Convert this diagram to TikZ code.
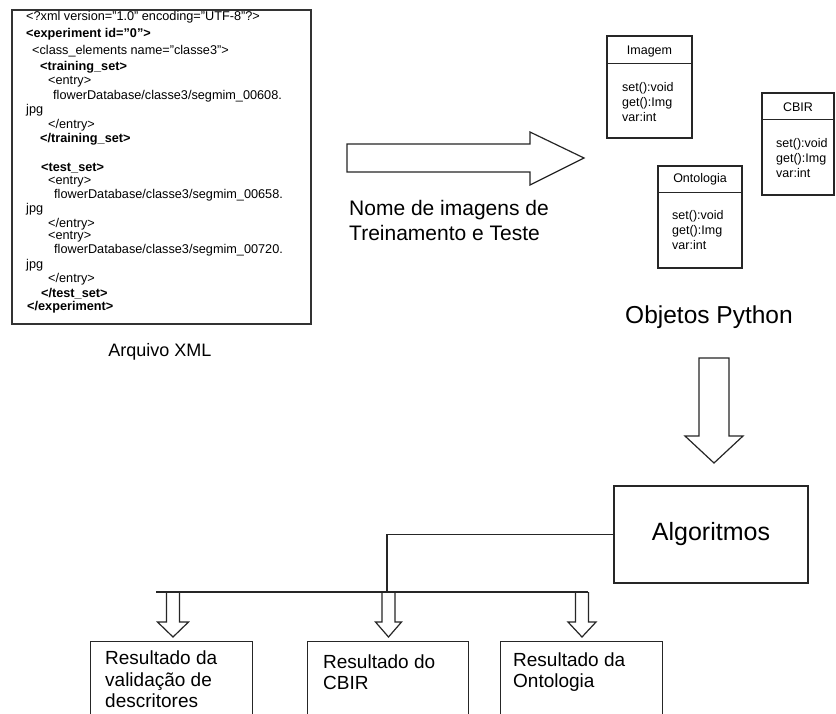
\documentclass[tikz,border=0pt]{standalone}
\usepackage{fontspec}
\setmainfont{Liberation Sans}
\begin{document}
\begin{tikzpicture}[x=1pt,y=-1pt,
  ink/.style={draw=black!85, line width=1.2pt, line join=miter},
  frame/.style={draw=black!80, line width=1.8pt},
  xmlline/.style={inner sep=0pt, anchor=west, font=\fontsize{12.7}{14}\selectfont},
  xmlbold/.style={xmlline, font=\fontsize{12.7}{14}\selectfont\bfseries},
  classbox/.style={ink, minimum height=102pt, inner sep=0pt},
  classtitle/.style={inner sep=0pt, font=\fontsize{12.5}{14}\selectfont},
  classattr/.style={inner sep=0pt, anchor=west, align=left, font=\fontsize{12.5}{15}\selectfont},
  resbox/.style={ink, anchor=north west, minimum height=100pt, inner sep=0pt},
  restext/.style={inner sep=0pt, anchor=west, align=left, font=\fontsize{19}{21.5}\selectfont},
  caption/.style={inner sep=0pt}]
\useasboundingbox (0,0) rectangle (836,713);
\fill[white] (0,0) rectangle (836,713);

% ---- XML file listing ----
\node[frame, anchor=north west, minimum width=299pt, minimum height=314pt, inner sep=0pt] (xml) at (11,9) {};
\node[xmlline] (l1)  at (26,17)  {<?xml version="1.0" encoding="UTF-8"?>};
\node[xmlbold] (l2)  at (26,34)  {<experiment id="0">};
\node[xmlline] (l3)  at (32,51)  {<class\_elements name="classe3">};
\node[xmlbold] (l4)  at (40,67)  {<training\_set>};
\node[xmlline] (l5)  at (48,82)  {<entry>};
\node[xmlline] (l6)  at (53,96)  {flowerDatabase/classe3/segmim\_00608.};
\node[xmlline] (l7)  at (26,110) {jpg};
\node[xmlline] (l8)  at (48,125) {</entry>};
\node[xmlbold] (l9)  at (40,139) {</training\_set>};
\node[xmlbold] (l11) at (41,168) {<test\_set>};
\node[xmlline] (l12) at (48,182) {<entry>};
\node[xmlline] (l13) at (54,195) {flowerDatabase/classe3/segmim\_00658.};
\node[xmlline] (l14) at (26,209) {jpg};
\node[xmlline] (l15) at (48,224) {</entry>};
\node[xmlline] (l16) at (48,237) {<entry>};
\node[xmlline] (l17) at (54,250) {flowerDatabase/classe3/segmim\_00720.};
\node[xmlline] (l18) at (26,265) {jpg};
\node[xmlline] (l19) at (48,279) {</entry>};
\node[xmlbold] (l20) at (41,294) {</test\_set>};
\node[xmlbold] (l21) at (27,307) {</experiment>};
\node[caption, font=\fontsize{18}{20}\selectfont] (xmlcap) at (160,352) {Arquivo XML};

% ---- hollow arrow to the Python objects ----
\draw[ink] (347,144) -- (530,144) -- (530,132) -- (584,158) -- (530,185) -- (530,172) -- (347,172) -- cycle;
\node[inner sep=0pt, anchor=west, align=left, font=\fontsize{21}{25}\selectfont] (names) at (349,220.5)
  {Nome de imagens de\\Treinamento e Teste};

% ---- Python classes ----
\node[classbox, minimum width=85pt] (img) at (649.5,87) {};
\draw[ink] ([yshift=-28pt]img.north west) -- ([yshift=-28pt]img.north east);
\node[classtitle] (imgT) at (649.5,51) {Imagem};
\node[classattr] (imgA) at (622,102) {set():void\\get():Img\\var:int};

\node[classbox, minimum width=72pt] (cbir) at (798,144) {};
\draw[ink] ([yshift=-27pt]cbir.north west) -- ([yshift=-27pt]cbir.north east);
\node[classtitle] (cbirT) at (798,107) {CBIR};
\node[classattr] (cbirA) at (776,158) {set():void\\get():Img\\var:int};

\node[classbox, minimum width=84pt] (onto) at (700,217) {};
\draw[ink] ([yshift=-27pt]onto.north west) -- ([yshift=-27pt]onto.north east);
\node[classtitle] (ontoT) at (700,179.5) {Ontologia};
\node[classattr] (ontoA) at (672,230) {set():void\\get():Img\\var:int};

\node[caption, font=\fontsize{24.5}{28}\selectfont] (py) at (709,317) {Objetos Python};

% ---- hollow arrow down to the algorithms ----
\draw[ink] (699,358) -- (729,358) -- (729,436) -- (743,436) -- (714,463) -- (685,436) -- (699,436) -- cycle;

\node[ink, minimum width=194pt, minimum height=97pt, inner sep=0pt,
      font=\fontsize{25}{28}\selectfont] (alg) at (711,534.5) {Algoritmos};

% ---- distribution to the results ----
\coordinate (split) at (387,592);
\coordinate (busL) at (156,592);
\coordinate (busR) at (588,592);
\draw[ink] (alg.west) -| (split);
\draw[ink] (busL) -- (busR);
\foreach \cx/\hh in {173/15.5, 388.5/13, 582/14}{
  \draw[ink] (\cx-6.5,592) -- (\cx-6.5,622) -- (\cx-\hh,622) -- (\cx,637)
             -- (\cx+\hh,622) -- (\cx+6.5,622) -- (\cx+6.5,592);
}

% ---- result boxes ----
\node[resbox, minimum width=162pt] (r1) at (90,641) {};
\node[restext] (r1t) at (105,679.5) {Resultado da\\validação de\\descritores};
\node[resbox, minimum width=161pt] (r2) at (307,641) {};
\node[restext] (r2t) at (323,672) {Resultado do\\CBIR};
\node[resbox, minimum width=162pt] (r3) at (500,641) {};
\node[restext] (r3t) at (513,672) {Resultado da\\Ontologia};
\end{tikzpicture}
\end{document}
